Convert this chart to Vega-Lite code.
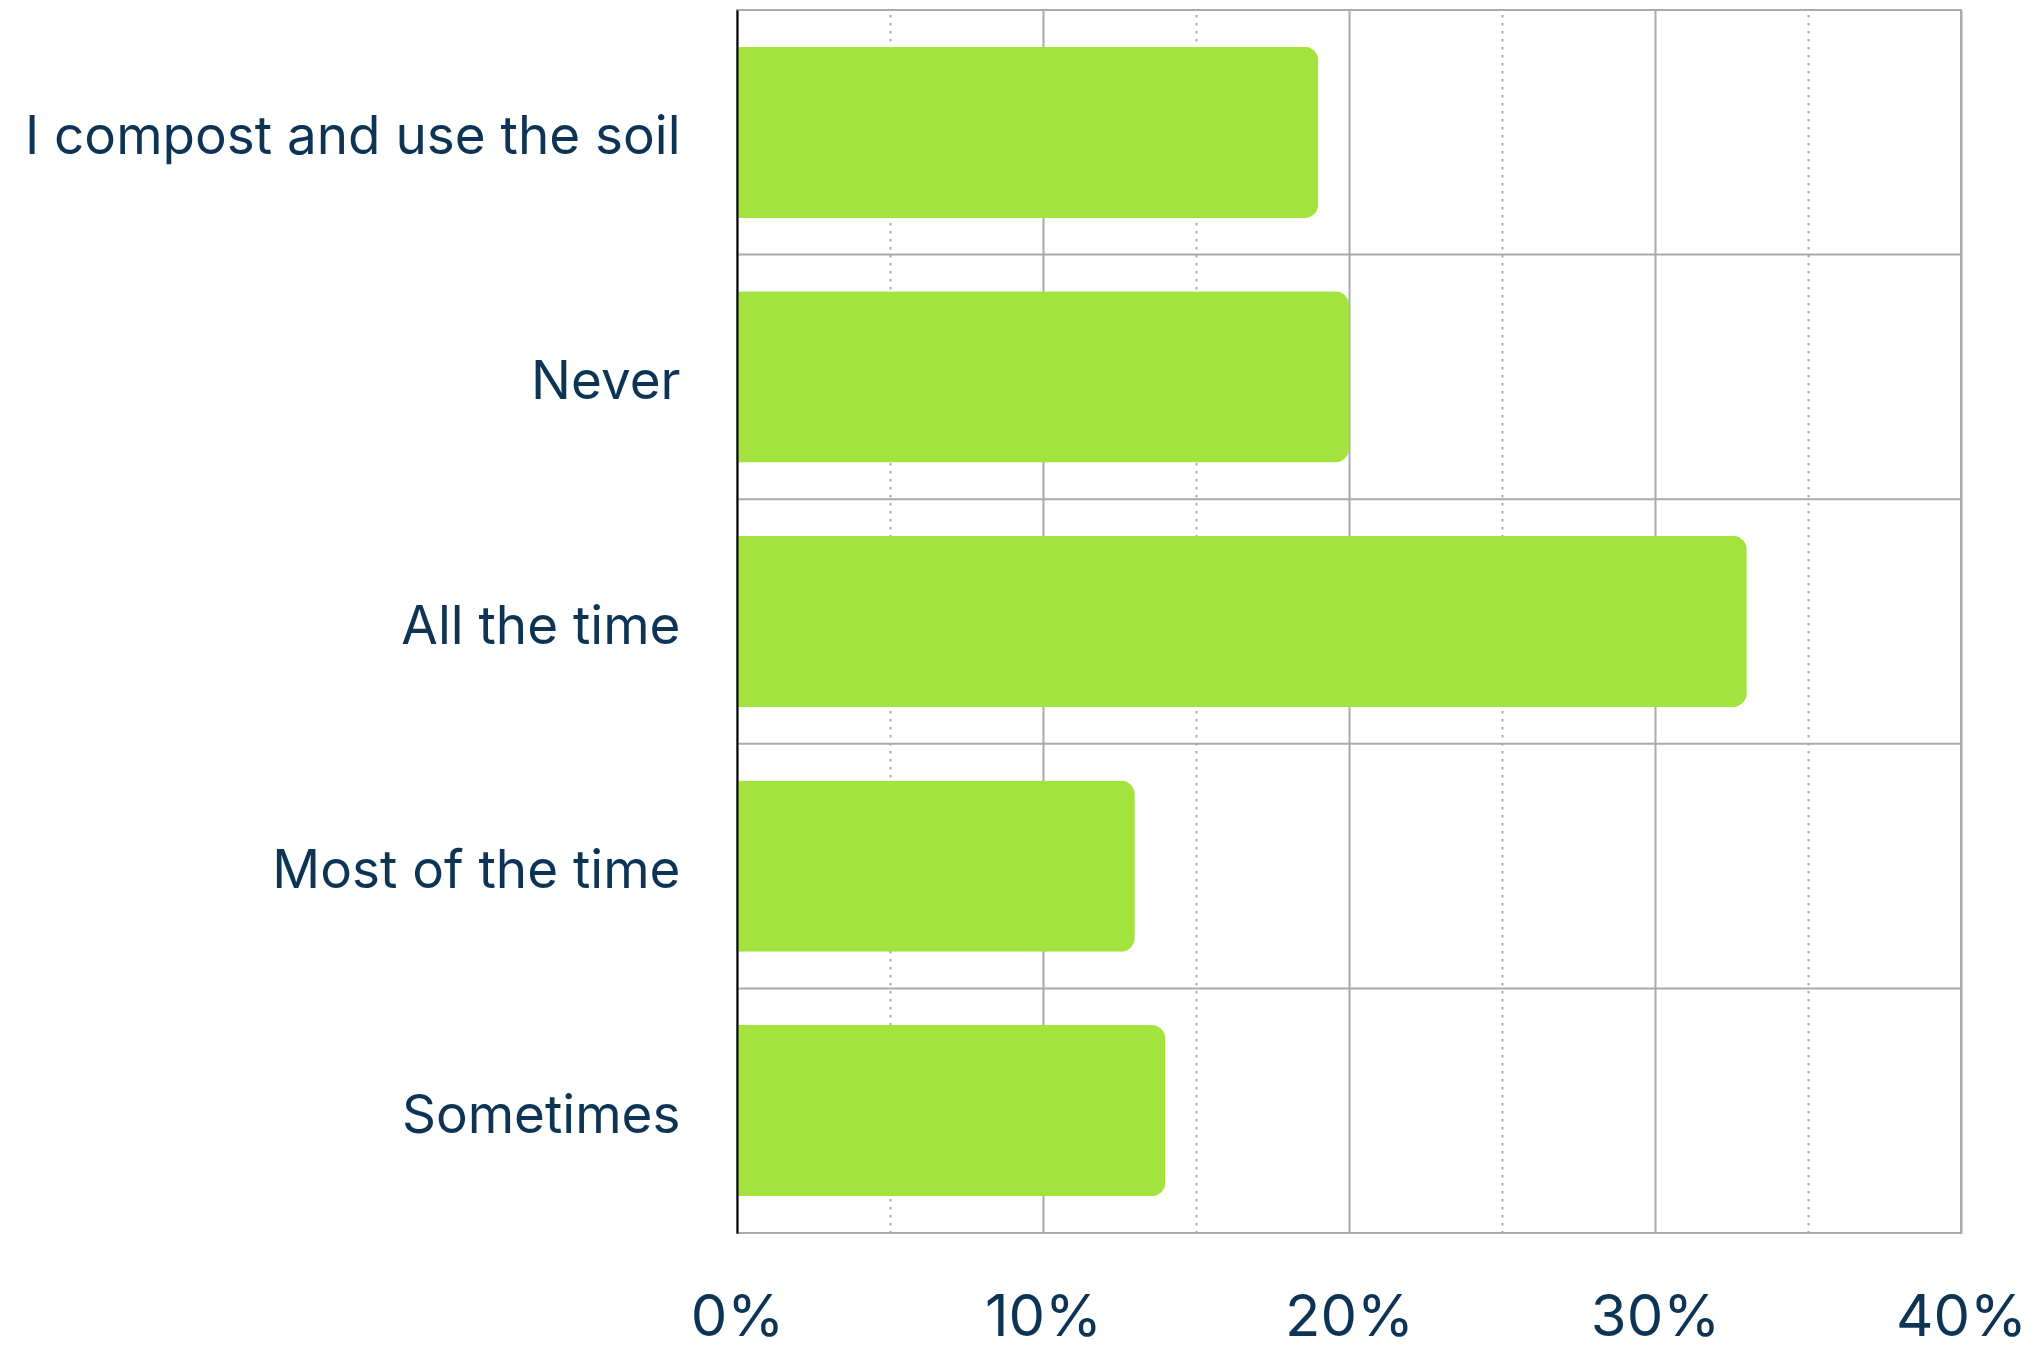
{
  "$schema": "https://vega.github.io/schema/vega-lite/v6.json",
  "autosize": "none",
  "padding": {"left": 737, "top": 10, "right": 78, "bottom": 119},
  "width": 1224,
  "height": 1223,
  "background": "white",
  "config": {"view": {"stroke": "#aaaaaa", "strokeWidth": 2}, "font": "Inter"},
  "data": {"values": [
    {"answer": "I compost and use the soil", "pct": 19},
    {"answer": "Never", "pct": 20},
    {"answer": "All the time", "pct": 33},
    {"answer": "Most of the time", "pct": 13},
    {"answer": "Sometimes", "pct": 14}
  ]},
  "layer": [
    {
      "mark": {"type": "bar", "color": "#a2e33e", "cornerRadiusEnd": 14, "height": {"band": 0.7}},
      "encoding": {
        "y": {"field": "answer", "type": "nominal", "sort": null,
          "scale": {"paddingInner": 0, "paddingOuter": 0},
          "axis": {"title": null, "ticks": false, "grid": false, "domainColor": "#000000", "domainWidth": 2,
            "labelFontSize": 53, "labelColor": "#0e3455", "labelPadding": 57, "labelLimit": 0, "labelOffset": 6, "zindex": 1}},
        "x": {"field": "pct", "type": "quantitative", "scale": {"domain": [0, 40], "nice": false},
          "axis": {"title": null, "values": [0, 5, 10, 15, 20, 25, 30, 35, 40], "ticks": false, "domain": false,
            "grid": true, "gridColor": "#aaaaaa", "gridWidth": 2,
            "gridDash": {"condition": {"test": "datum.value % 10 !== 0", "value": [2.5, 5.5]}, "value": []},
            "labelFlush": false, "labelFontSize": 58, "labelColor": "#0e3455", "labelPadding": 102, "labelBaseline": "alphabetic",
            "labelExpr": "datum.value % 10 === 0 ? datum.value + '%' : ''"}}
      }
    },
    {
      "mark": {"type": "rule", "color": "#aaaaaa", "strokeWidth": 2},
      "encoding": {"y": {"field": "answer", "type": "nominal", "sort": null, "bandPosition": 0}}
    }
  ]
}
